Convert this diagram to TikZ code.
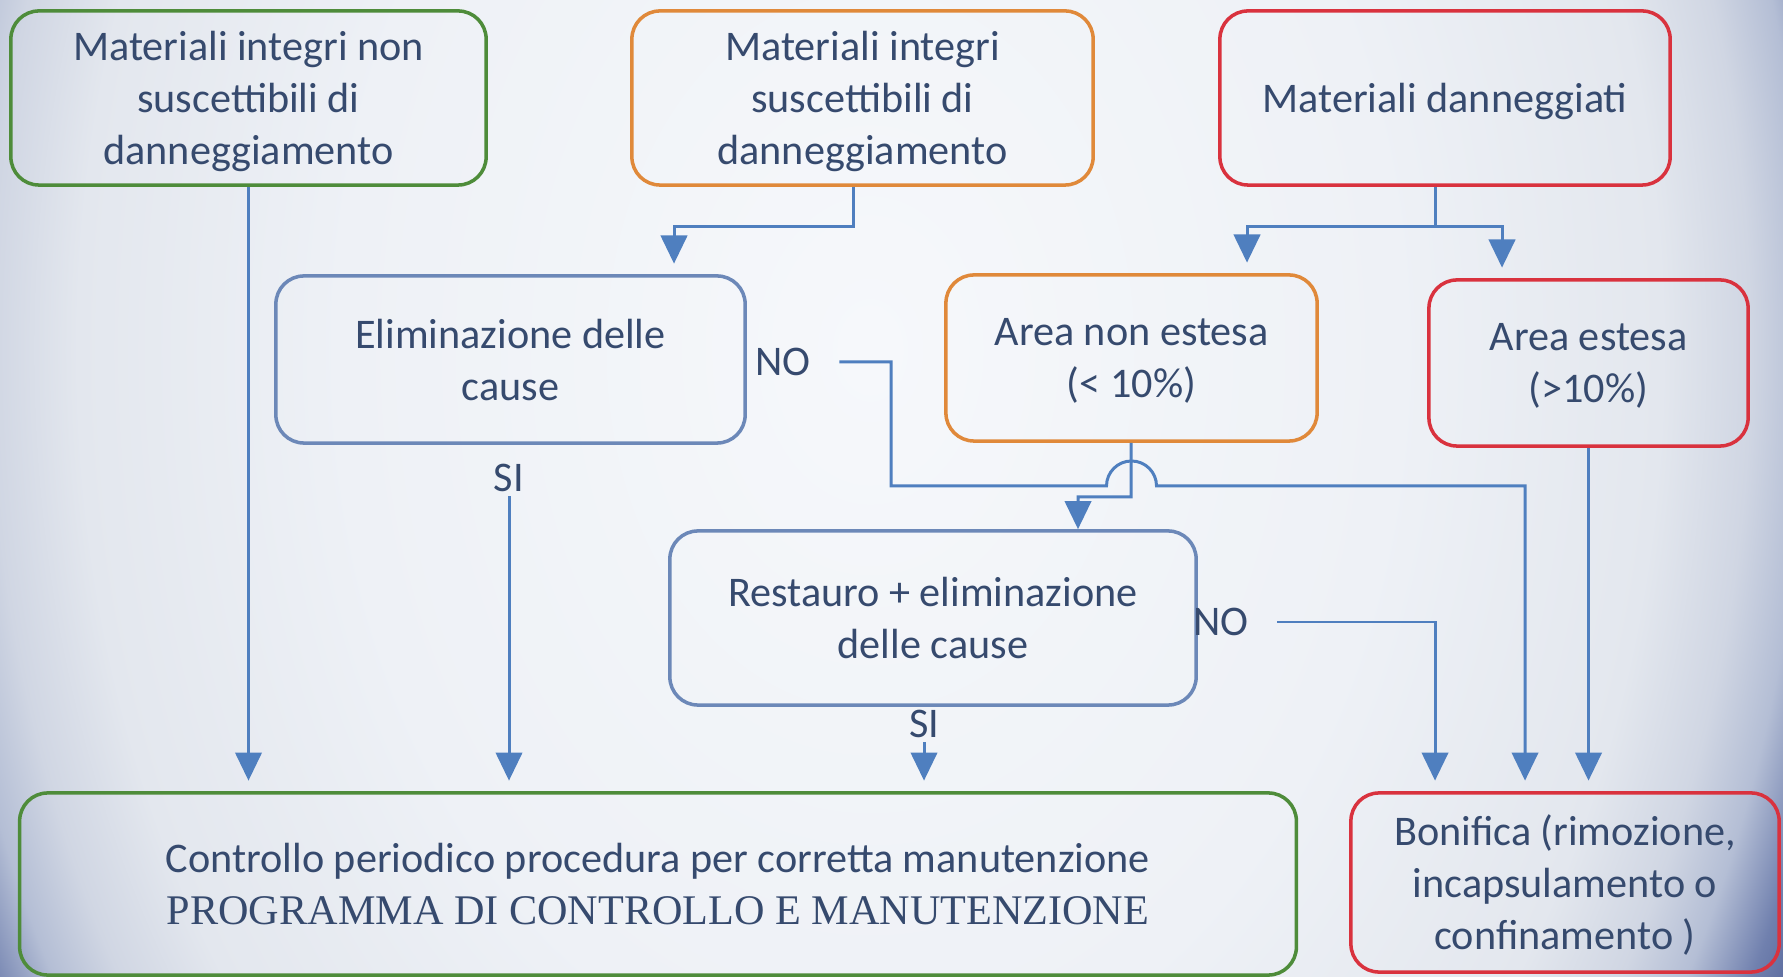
\documentclass[tikz,border=0pt]{standalone}
\usepackage{fontspec}
\setmainfont{Carlito}
\newfontfamily\progfont{Liberation Serif}
\usetikzlibrary{arrows.meta}

\definecolor{txtc}{HTML}{364A6E}
\definecolor{lnc}{HTML}{4F7FBF}
\definecolor{grn}{HTML}{4E8C3A}
\definecolor{org}{HTML}{E0893A}
\definecolor{rd}{HTML}{D9323E}
\definecolor{blu}{HTML}{6C88B8}
\definecolor{bg0}{HTML}{F6F8FB}
\definecolor{bga}{HTML}{EEF1F6}
\definecolor{bgb}{HTML}{E3E7EE}
\definecolor{bgc}{HTML}{D0D6E3}
\definecolor{bgd}{HTML}{B4BED5}
\definecolor{bge}{HTML}{7080AE}
\definecolor{bgf}{HTML}{3E4E88}
\pgfdeclareradialshading{bgshade}{\pgfpoint{0bp}{0bp}}{color(0bp)=(bg0); color(12bp)=(bga); color(18bp)=(bgb); color(20bp)=(bgc); color(21.3bp)=(bgd); color(22.6bp)=(bge); color(24.5bp)=(bgf); color(50bp)=(bgf)}

\begin{document}
\begin{tikzpicture}[x=0.01cm, y=-0.01cm,
    blk/.style={draw, line width=1pt, rounded corners=8pt, align=center, text=txtc, font=\fontsize{12}{14.8}\selectfont, inner sep=0pt, text depth=0pt},
    lbl/.style={text=txtc, font=\fontsize{12}{14.8}\selectfont, inner sep=1pt},
    ln/.style={draw=lnc, line width=0.85pt},
    arr/.style={ln, -{Triangle[width=7.5pt,length=8pt]}, shorten >=3pt}]
    \useasboundingbox (0,0) rectangle (1783,977);
    \begin{scope}
    \clip (0,0) rectangle (1783,977);
    \shade[shading=bgshade] (-230,-1150) rectangle (1970,1850);
    \end{scope}

    \node[blk, draw=grn, minimum width=4.75cm, minimum height=1.74cm] (0) at (248.5,98) {Materiali integri non\\suscettibili di\\danneggiamento};
    \node[blk, draw=org, minimum width=4.61cm, minimum height=1.74cm] (1) at (862.5,98) {Materiali integri\\suscettibili di\\danneggiamento};
    \node[blk, draw=rd, minimum width=4.5cm, minimum height=1.74cm] (2) at (1445,98) {Materiali danneggiati};
    \node[blk, draw=blu, minimum width=4.69cm, minimum height=1.67cm] (3) at (510.5,359.5) {Eliminazione delle\\cause};
    \node[blk, draw=org, minimum width=3.71cm, minimum height=1.66cm] (4) at (1131.5,358) {Area non estesa\\(< 10\%)};
    \node[blk, draw=rd, minimum width=3.19cm, minimum height=1.66cm] (5) at (1588.5,363) {Area estesa\\(>10\%)};
    \node[blk, draw=blu, minimum width=5.26cm, minimum height=1.74cm] (6) at (933,618) {Restauro + eliminazione\\delle cause};
    \node[blk, draw=grn, minimum width=12.76cm, minimum height=1.82cm] (7) at (658,884) {Controllo periodico procedura per corretta manutenzione\\{\progfont PROGRAMMA DI CONTROLLO E MANUTENZIONE}};
    \node[blk, draw=rd, minimum width=4.28cm, minimum height=1.79cm] (8) at (1565,882.5) {Bonifica (rimozione,\\incapsulamento o\\confinamento )};

    \node[lbl] (9) at (783,362) {NO};
    \node[lbl] (10) at (509,478) {SI};
    \node[lbl] (11) at (1221,622) {NO};
    \node[lbl] (12) at (924,724) {SI};

    \coordinate (b1) at (853,227);
    \coordinate (b2) at (674,227);
    \coordinate (c1) at (1435,227);
    \coordinate (c2) at (1247,227);
    \coordinate (c3) at (1502,227);
    \coordinate (d1) at (891,362);
    \coordinate (d2) at (891,486);
    \coordinate (d3) at (1525,486);
    \coordinate (e1) at (1131,497);
    \coordinate (e2) at (1078,497);
    \coordinate (g1) at (1435,622);
    \coordinate (h) at (d2 -| 4.south);

    \draw[arr] (0) -- (0 |- 7.north);
    \draw[arr] (1.south -| b1) -- (b1) -- (b2) -- (b2 |- 3.north);
    \draw[ln] (2.south -| c1) -- (c1);
    \draw[arr] (c1) -- (c2) -- (c2 |- 4.north);
    \draw[arr] (c1) -- (c3) -- (c3 |- 5.north);
    \draw[arr, shorten <=7pt] (9.east) -- (d1) -- (d2) -- ([xshift=-0.25cm]h) arc[start angle=180, end angle=0, radius=0.25cm] -- (d3) -- (d3 |- 8.north);
    \draw[arr, shorten >=0pt] (4) -- (e1) -- (e2) -- (e2 |- 6.north);
    \draw[arr] (10) -- (10 |- 7.north);
    \draw[arr, shorten <=7pt] (11.east) -- (g1) -- (g1 |- 8.north);
    \draw[arr] (12) -- (12 |- 7.north);
    \draw[arr] (5) -- (5 |- 8.north);
\end{tikzpicture}
\end{document}
